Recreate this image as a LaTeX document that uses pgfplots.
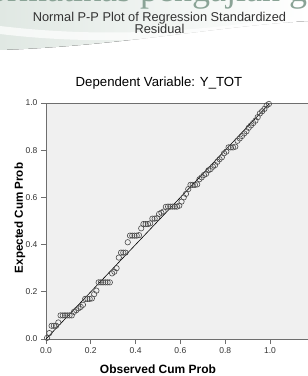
\documentclass[border=0pt]{standalone}
\usepackage{pgfplots}
\pgfplotsset{compat=1.18}
\usepackage{fontspec}
\setmainfont{Liberation Sans}
\newfontfamily\wmserif{Liberation Serif}
\definecolor{plotbg}{HTML}{F0F0F0}
\definecolor{axisgray}{HTML}{6E6E6E}
\definecolor{markgray}{HTML}{4A4A4A}
\definecolor{wmband}{HTML}{E0E8E3}
\definecolor{wmtext}{HTML}{8AA396}
\definecolor{titlegray}{HTML}{333333}
\begin{document}
\begin{tikzpicture}[x=1pt,y=1pt]
\useasboundingbox (0,0) rectangle (308,376);
% watermark background
\fill[left color=wmband, right color=white] (0,376) -- (308,376) -- (308,355) .. controls (220,350) and (120,330) .. (0,326) -- cycle;
\fill[white, opacity=0.7] (0,350) .. controls (100,338) and (200,343) .. (308,362) -- (308,357) .. controls (200,336) and (100,330) .. (0,342) -- cycle;
\node[anchor=base west, font=\wmserif\fontsize{36}{36}\selectfont, text=wmtext, inner sep=0pt] at (-41,374) {nformatikas pengajian ga};
% titles
\node[font=\fontsize{12.8}{14}\selectfont, text=titlegray, align=center] at (159.5,353) {Normal P-P Plot of Regression Standardized\\[-2.5pt]Residual};
\node[font=\fontsize{13.2}{14}\selectfont, text=black] at (159,293) {Dependent Variable: Y\_TOT};
% axis labels
\node[font=\bfseries\fontsize{12}{13}\selectfont] at (158,7) {Observed Cum Prob};
\node[font=\bfseries\fontsize{11.6}{13}\selectfont, rotate=90] at (20,158) {Expected Cum Prob};
\begin{axis}[
  at={(46pt,37pt)}, anchor=origin,
  width=262pt, height=236pt, scale only axis,
  xmin=0, xmax=1.1696, ymin=0, ymax=1,
  axis x line*=bottom, axis y line*=left,
  x axis line style={-}, y axis line style={-},
  axis line style={draw=axisgray, line width=0.9pt},
  axis background/.style={fill=plotbg},
  xtick={0,0.2,0.4,0.6,0.8,1.0},
  ytick={0,0.2,0.4,0.6,0.8,1.0},
  tick align=outside, major tick length=5pt,
  tick style={draw=axisgray, line width=0.8pt},
  ticklabel style={font=\fontsize{8.5}{9}\selectfont, text=titlegray},
  /pgf/number format/assume math mode=true,
  /pgf/number format/.cd, fixed, fixed zerofill, precision=1,
  /pgfplots/.cd,
  clip=false,
]
\addplot[black, line width=0.6pt] coordinates {(0,0) (1,1)};
\addplot[only marks, mark=o, mark size=2.7pt, mark options={draw=markgray, line width=0.6pt}] table {
x y
0.005 0.005
0.015 0.025
0.025 0.056
0.035 0.056
0.045 0.056
0.055 0.070
0.065 0.100
0.075 0.100
0.085 0.100
0.095 0.100
0.105 0.100
0.115 0.100
0.125 0.115
0.135 0.122
0.145 0.130
0.155 0.136
0.165 0.145
0.175 0.170
0.185 0.170
0.195 0.170
0.205 0.172
0.215 0.190
0.225 0.205
0.235 0.240
0.245 0.240
0.255 0.240
0.265 0.240
0.275 0.240
0.285 0.240
0.295 0.278
0.305 0.285
0.315 0.300
0.325 0.345
0.335 0.366
0.345 0.366
0.355 0.366
0.365 0.410
0.375 0.438
0.385 0.438
0.395 0.438
0.405 0.438
0.415 0.440
0.425 0.469
0.435 0.487
0.445 0.487
0.455 0.487
0.465 0.490
0.475 0.510
0.485 0.510
0.495 0.512
0.505 0.530
0.515 0.535
0.525 0.540
0.535 0.560
0.545 0.561
0.555 0.561
0.565 0.561
0.575 0.561
0.585 0.561
0.595 0.565
0.605 0.582
0.615 0.600
0.625 0.615
0.635 0.635
0.645 0.653
0.655 0.653
0.665 0.653
0.675 0.655
0.685 0.677
0.695 0.685
0.705 0.695
0.715 0.700
0.725 0.715
0.735 0.720
0.745 0.730
0.755 0.737
0.765 0.751
0.775 0.762
0.785 0.770
0.795 0.787
0.805 0.794
0.815 0.812
0.825 0.812
0.835 0.812
0.845 0.815
0.855 0.840
0.865 0.850
0.875 0.860
0.885 0.871
0.895 0.880
0.905 0.895
0.915 0.905
0.925 0.915
0.935 0.925
0.945 0.940
0.955 0.956
0.965 0.965
0.975 0.975
0.985 0.990
0.995 0.996
};
\draw[axisgray, line width=0.9pt] (rel axis cs:0,1) -- (rel axis cs:1,1);
\end{axis}
\end{tikzpicture}
\end{document}
